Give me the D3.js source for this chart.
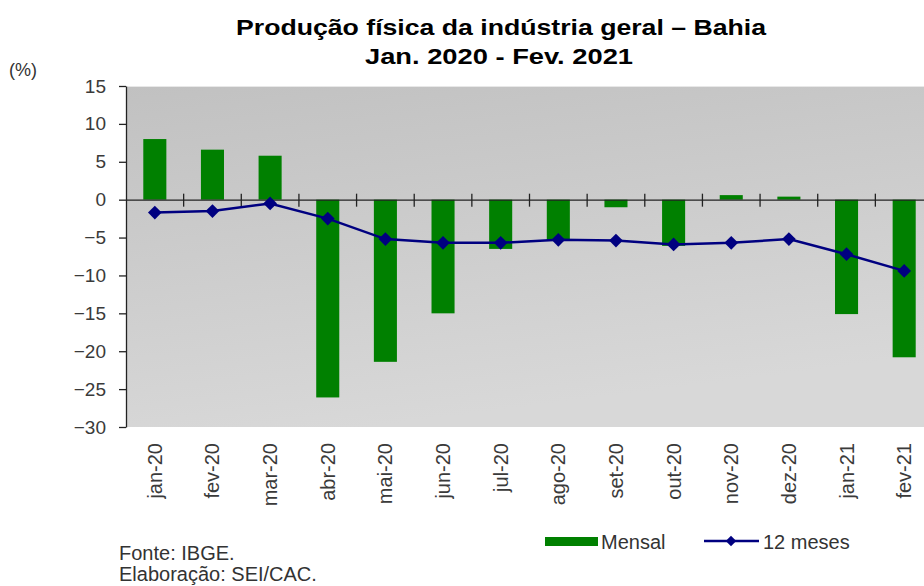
<!DOCTYPE html>
<html>
<head>
<meta charset="utf-8">
<script src="https://cdn.jsdelivr.net/npm/d3@7"></script>
<style>
  body { margin: 0; background: #fff; overflow: hidden; }
  svg { display: block; font-family: "Liberation Sans", Arial, sans-serif; }
</style>
</head>
<body>
<svg id="chart" width="924" height="586"></svg>
<script>
// months on the x axis
const months = ["jan-20", "fev-20", "mar-20", "abr-20", "mai-20", "jun-20", "jul-20",
  "ago-20", "set-20", "out-20", "nov-20", "dez-20", "jan-21", "fev-21"];

// monthly change (bars)
const mensal = [8.0, 6.6, 5.8, -26.1, -21.4, -15.0, -6.5, -5.4, -1.0, -6.1, 0.6, 0.4, -15.1, -20.8];

// accumulated 12 months (line)
const dozeMeses = [-1.7, -1.5, -0.5, -2.5, -5.2, -5.7, -5.7, -5.3, -5.4, -5.9, -5.7, -5.2, -7.2, -9.4];

const yTicks = [15, 10, 5, 0, -5, -10, -15, -20, -25, -30];

var svg = d3.select("#chart");

// plot box (right side runs past the window edge, like the original)
var plotLeft = 126, plotTop = 86, plotRight = 933, plotBottom = 427;

var x = d3.scaleBand()
  .domain(months)
  .range([plotLeft, plotRight])
  .paddingInner(0).paddingOuter(0);

var y = d3.scaleLinear()
  .domain([-30, 15])
  .range([plotBottom, plotTop]);

// background gradient of the plot area
var defs = svg.append("defs");
var grad = defs.append("linearGradient")
  .attr("id", "bg")
  .attr("x1", "0%").attr("y1", "0%")
  .attr("x2", "30%").attr("y2", "100%");
grad.append("stop").attr("offset", "0%").attr("stop-color", "#c1c1c1");
grad.append("stop").attr("offset", "100%").attr("stop-color", "#d8d8d8");

svg.append("rect")
  .attr("x", plotLeft).attr("y", plotTop)
  .attr("width", plotRight - plotLeft).attr("height", plotBottom - plotTop)
  .attr("fill", "url(#bg)");
// thin light edge along the top of the plot
svg.append("line")
  .attr("x1", plotLeft).attr("x2", plotRight)
  .attr("y1", plotTop + 0.5).attr("y2", plotTop + 0.5)
  .attr("stroke", "#e8e8e8");

// title
svg.append("text")
  .attr("x", 501).attr("y", 35)
  .attr("text-anchor", "middle")
  .attr("font-size", 22).attr("font-weight", "bold")
  .attr("textLength", 530).attr("lengthAdjust", "spacingAndGlyphs")
  .attr("fill", "#000")
  .text("Produção física da indústria geral – Bahia");
svg.append("text")
  .attr("x", 499).attr("y", 64)
  .attr("text-anchor", "middle")
  .attr("font-size", 22).attr("font-weight", "bold")
  .attr("textLength", 268).attr("lengthAdjust", "spacingAndGlyphs")
  .attr("fill", "#000")
  .text("Jan. 2020 - Fev. 2021");

svg.append("text")
  .attr("x", 9).attr("y", 76)
  .attr("font-size", 18).attr("fill", "#333")
  .text("(%)");

// bars
svg.append("g")
  .selectAll("rect")
  .data(mensal)
  .enter()
  .append("rect")
    .attr("x", (d, i) => x(months[i]) + x.bandwidth() * 0.3)
    .attr("width", x.bandwidth() * 0.4)
    .attr("y", d => y(Math.max(0, d)))
    .attr("height", d => Math.abs(y(d) - y(0)))
    .attr("fill", "#008000");

// zero axis with category ticks
var xAxis = svg.append("g")
  .attr("transform", "translate(0," + y(0) + ")")
  .call(d3.axisBottom(x).tickSize(0).tickFormat(""));
xAxis.select(".domain").attr("stroke", "#222").attr("stroke-width", 1.3);
xAxis.selectAll(".sep")
  .data(months.slice(1))
  .enter()
  .append("line")
    .attr("class", "sep")
    .attr("x1", d => x(d)).attr("x2", d => x(d))
    .attr("y1", -6).attr("y2", 7)
    .attr("stroke", "#222").attr("stroke-width", 1.3);

// y axis
var yAxis = svg.append("g")
  .attr("transform", "translate(" + plotLeft + ",0)")
  .call(d3.axisLeft(y).tickValues(yTicks).tickSize(7).tickSizeOuter(0).tickPadding(13));
yAxis.select(".domain").attr("stroke", "#222").attr("stroke-width", 1.3);
yAxis.selectAll(".tick line").attr("stroke", "#222").attr("stroke-width", 1.3);
yAxis.selectAll(".tick text")
  .attr("font-size", 19).attr("fill", "#3a3a3a")
  .attr("font-family", "Liberation Sans, Arial, sans-serif");

// month labels, rotated
svg.append("g")
  .selectAll("text")
  .data(months)
  .enter()
  .append("text")
    .attr("transform", d => "translate(" + (x(d) + x.bandwidth() / 2 + 7) + "," + (plotBottom + 16) + ") rotate(-90)")
    .attr("text-anchor", "end")
    .attr("font-size", 20).attr("fill", "#3a3a3a")
    .text(d => d);

// 12 months line
var line = d3.line()
  .x((d, i) => x(months[i]) + x.bandwidth() / 2)
  .y(d => y(d));

svg.append("path")
  .datum(dozeMeses)
  .attr("d", line)
  .attr("fill", "none")
  .attr("stroke", "#000080")
  .attr("stroke-width", 2.5);

var diamond = d3.symbol().type(d3.symbolDiamond2).size(120);
svg.append("g")
  .selectAll("path")
  .data(dozeMeses)
  .enter()
  .append("path")
    .attr("d", diamond)
    .attr("transform", (d, i) => "translate(" + (x(months[i]) + x.bandwidth() / 2) + "," + y(d) + ")")
    .attr("fill", "#000080");

// legend
var legend = svg.append("g");
legend.append("rect")
  .attr("x", 545).attr("y", 537)
  .attr("width", 53).attr("height", 9)
  .attr("fill", "#008000");
legend.append("text")
  .attr("x", 601).attr("y", 549)
  .attr("font-size", 20).attr("fill", "#333")
  .text("Mensal");
legend.append("line")
  .attr("x1", 704).attr("x2", 759)
  .attr("y1", 541).attr("y2", 541)
  .attr("stroke", "#000080").attr("stroke-width", 2.5);
legend.append("path")
  .attr("d", d3.symbol().type(d3.symbolDiamond2).size(70))
  .attr("transform", "translate(731,541)")
  .attr("fill", "#000080");
legend.append("text")
  .attr("x", 763).attr("y", 549)
  .attr("font-size", 20).attr("fill", "#333")
  .text("12 meses");

// source notes
svg.append("text")
  .attr("x", 119).attr("y", 560)
  .attr("font-size", 20).attr("fill", "#333")
  .text("Fonte: IBGE.");
svg.append("text")
  .attr("x", 119).attr("y", 581)
  .attr("font-size", 20).attr("fill", "#333")
  .text("Elaboração: SEI/CAC.");
</script>
</body>
</html>
